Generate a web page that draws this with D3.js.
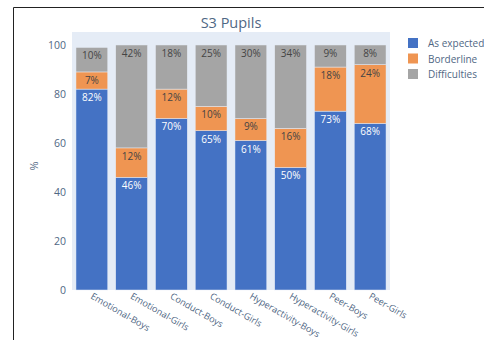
<!DOCTYPE html>
<html>
<head>
<meta charset="utf-8">
<script src="https://cdn.jsdelivr.net/npm/d3@7"></script>
<style>
  html, body { margin: 0; padding: 0; background: #fff; }
  svg { display: block; font-family: "Open Sans", sans-serif; }
</style>
</head>
<body>
<svg id="chart" width="484" height="340"></svg>
<script>
// Categories and stacked series (percent of pupils)
const categories = ["Emotional-Boys", "Emotional-Girls", "Conduct-Boys", "Conduct-Girls",
  "Hyperactivity-Boys", "Hyperactivity-Girls", "Peer-Boys", "Peer-Girls"];
const asExpected = [82, 46, 70, 65, 61, 50, 73, 68];
const borderline = [7, 12, 12, 10, 9, 16, 18, 24];
const difficulties = [10, 42, 18, 25, 30, 34, 9, 8];
const seriesNames = ["As expected", "Borderline", "Difficulties"];
const yTicks = [0, 20, 40, 60, 80, 100];

const colors = { "As expected": "#4472C4", "Borderline": "#EF9552", "Difficulties": "#A5A5A5" };
const labelColors = { "As expected": "#ffffff", "Borderline": "#444444", "Difficulties": "#444444" };

const svg = d3.select("#chart");
const W = 484, H = 340;
const plot = { left: 72, right: 390, top: 32, bottom: 290 };

// outer frame (left and top edges)
svg.append("line").attr("x1", 13.5).attr("x2", W).attr("y1", 7.5).attr("y2", 7.5)
  .attr("stroke", "#222").attr("stroke-width", 1);
svg.append("line").attr("x1", 13.5).attr("x2", 13.5).attr("y1", 7.5).attr("y2", H)
  .attr("stroke", "#222").attr("stroke-width", 1);

const rows = categories.map((c, i) => ({
  cat: c,
  "As expected": asExpected[i],
  "Borderline": borderline[i],
  "Difficulties": difficulties[i]
}));
const stacked = d3.stack().keys(seriesNames)(rows);

const x = d3.scaleBand().domain(categories).range([plot.left, plot.right]).paddingInner(0.2).paddingOuter(0.1);
const y = d3.scaleLinear().domain([0, 105.3]).range([plot.bottom, plot.top]);

// plot background
svg.append("rect").attr("x", plot.left).attr("y", plot.top)
  .attr("width", plot.right - plot.left).attr("height", plot.bottom - plot.top)
  .attr("fill", "#E5ECF6");

// y axis
const yAxis = svg.append("g").attr("transform", `translate(${plot.left},0)`)
  .call(d3.axisLeft(y).tickValues(yTicks).tickSize(0).tickPadding(6));
yAxis.select(".domain").remove();
yAxis.selectAll("text").attr("fill", "#506784").style("font-size", "10.5px")
  .style("font-family", "'Open Sans', sans-serif");

// stacked bars
const layers = svg.append("g").selectAll("g").data(stacked).join("g")
  .attr("fill", d => colors[d.key]);
layers.selectAll("rect").data(d => d).join("rect")
  .attr("x", d => x(d.data.cat))
  .attr("width", x.bandwidth())
  .attr("y", d => y(d[1]))
  .attr("height", d => y(d[0]) - y(d[1]))
  .attr("stroke", "#E5ECF6").attr("stroke-width", 0.5);

// value labels inside the top of each segment
const labels = svg.append("g").selectAll("g").data(stacked).join("g");
labels.each(function(layer) {
  d3.select(this).selectAll("text").data(layer).join("text")
    .attr("x", d => x(d.data.cat) + x.bandwidth() / 2)
    .attr("y", d => y(d[1]) + 12)
    .attr("text-anchor", "middle")
    .attr("fill", labelColors[layer.key])
    .style("font-size", "10px")
    .text(d => (d[1] - d[0]) + "%");
});

// x axis with slanted labels
const xAxis = svg.append("g").attr("transform", `translate(0,${plot.bottom})`)
  .call(d3.axisBottom(x).tickSize(0).tickPadding(0));
xAxis.select(".domain").remove();
xAxis.selectAll("text")
  .attr("fill", "#506784").style("font-size", "9.2px")
  .style("font-family", "'Open Sans', sans-serif")
  .attr("dy", "0")
  .attr("y", 0)
  .attr("transform", "translate(-2,8) rotate(30)")
  .attr("text-anchor", "start");

// title
svg.append("text").attr("x", 231).attr("y", 28).attr("text-anchor", "middle")
  .attr("fill", "#506784").style("font-size", "14.5px").text("S3 Pupils");

// y axis title
svg.append("text").attr("transform", "translate(38,166) rotate(-90)")
  .attr("text-anchor", "middle").attr("fill", "#506784").style("font-size", "11px").text("%");

// legend
const legend = svg.append("g").attr("transform", "translate(408,43)");
const li = legend.selectAll("g").data(seriesNames).join("g")
  .attr("transform", (d, i) => `translate(0,${i * 15.5})`);
li.append("rect").attr("x", 0).attr("y", -5).attr("width", 10).attr("height", 10)
  .attr("fill", d => colors[d]);
li.append("text").attr("x", 20).attr("y", 4).attr("fill", "#506784")
  .style("font-size", "10px").text(d => d);
</script>
</body>
</html>
